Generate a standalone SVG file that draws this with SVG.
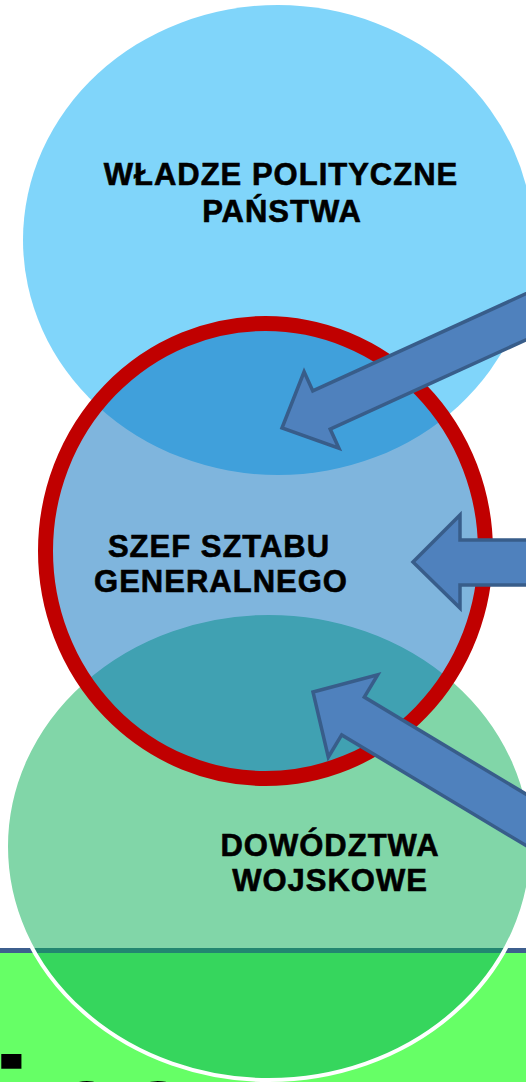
<svg xmlns="http://www.w3.org/2000/svg" width="526" height="1082" viewBox="0 0 526 1082">
<defs>
<style>
.lbl{font-family:"Liberation Sans",Arial,sans-serif;font-weight:bold;font-size:31px;letter-spacing:1px;fill:#000;stroke:#000;stroke-width:0.6px;text-anchor:middle}
.arrow{fill:#4F81BD;stroke:#385D8A;stroke-width:3.5;stroke-linejoin:miter}
</style>
</defs>
<rect x="0" y="0" width="526" height="1082" fill="#FFFFFF"/>
<g id="band">
<rect x="0" y="948" width="526" height="134" fill="#66FF66"/>
<rect x="0" y="948" width="526" height="5" fill="#3E5F8E"/>
<text x="-9" y="1160" font-family="Liberation Sans, Arial, sans-serif" font-weight="bold" font-size="147" fill="#000">ing</text>
</g>
<g id="dowodztwa">
<ellipse cx="269" cy="846.5" rx="263" ry="233.5" fill="rgb(8,175,84)" fill-opacity="0.51" stroke="#FFFFFF" stroke-width="4"/>
<text class="lbl" x="330" y="856">DOWÓDZTWA</text>
<text class="lbl" x="330" y="891">WOJSKOWE</text>
</g>
<g id="wladze">
<ellipse cx="278" cy="240" rx="255" ry="235" fill="#80D5FA"/>
<text class="lbl" x="281" y="185">WŁADZE POLITYCZNE</text>
<text class="lbl" x="282" y="222">PAŃSTWA</text>
</g>
<g id="szef">
<ellipse cx="265.5" cy="551" rx="220" ry="227.5" fill="rgb(0,107,187)" fill-opacity="0.5" stroke="#C00000" stroke-width="15"/>
<text class="lbl" x="219" y="557">SZEF SZTABU</text>
<text class="lbl" x="221" y="592">GENERALNEGO</text>
</g>
<g id="connectors">
<polygon class="arrow" points="282,428 304.1,371.8 312.8,390.9 591.8,263.7 609.2,301.9 330.2,429.1 338.9,448.2"/>
<polygon class="arrow" points="413,562 460,515 460,540 540,540 540,585 460,585 460,608"/>
<polygon class="arrow" points="313,692 377.7,674.8 364.3,697.1 581.7,827.6 559.1,865.4 341.7,734.9 328.3,757.2"/>
</g>
</svg>
